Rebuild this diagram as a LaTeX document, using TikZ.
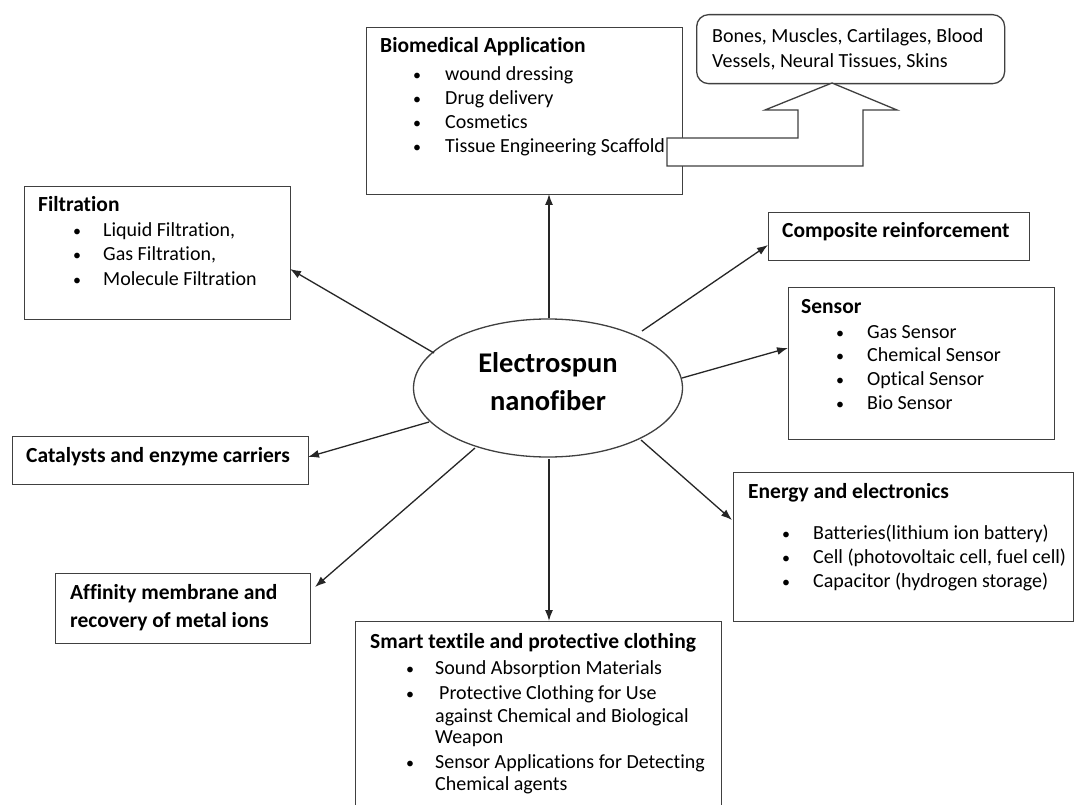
\documentclass[tikz,border=0pt]{standalone}
\usepackage{fontspec}
\setmainfont{Carlito}[Ligatures=NoCommon]
\usetikzlibrary{arrows.meta,shapes.geometric}
\tikzset{
  box/.style={draw=black!75, line width=1.3pt, fill=white},
  txt/.style={anchor=base west, inner sep=0pt, font=\fontsize{20}{24}\selectfont},
  ttl/.style={anchor=base west, inner sep=0pt, font=\fontsize{21.5}{25}\selectfont\bfseries},
  bul/.style={anchor=base west, inner sep=0pt, font=\fontsize{16}{20}\selectfont},
  conn/.style={draw=black!85, line width=1.3pt, -{Latex[length=11pt,width=8pt]}},
}
\begin{document}
\begin{tikzpicture}[x=1pt,y=-1pt]
\useasboundingbox (0,0) rectangle (1074,805);
\clip (0,0) rectangle (1074,805);
\fill[white] (0,0) rectangle (1074,805);

% ---- boxes (as nodes) ----
\node[box, anchor=north west, minimum width=316pt, minimum height=167pt, inner sep=0pt] (bio) at (366,27) {};
\node[box, anchor=north west, minimum width=308pt, minimum height=69pt, inner sep=0pt, rounded corners=12pt] (bones) at (696,14) {};
\node[box, anchor=north west, minimum width=266pt, minimum height=133pt, inner sep=0pt] (filt) at (24,186) {};
\node[box, anchor=north west, minimum width=261pt, minimum height=48pt, inner sep=0pt] (comp) at (768,212) {};
\node[box, anchor=north west, minimum width=266pt, minimum height=152pt, inner sep=0pt] (sens) at (788,287) {};
\node[box, anchor=north west, minimum width=296pt, minimum height=48pt, inner sep=0pt] (cat) at (12,436) {};
\node[box, anchor=north west, minimum width=340pt, minimum height=149pt, inner sep=0pt] (ener) at (733,472) {};
\node[box, anchor=north west, minimum width=255pt, minimum height=70pt, inner sep=0pt] (aff) at (55,573) {};
\node[box, anchor=north west, minimum width=366pt, minimum height=200pt, inner sep=0pt] (smart) at (355,621) {};

% ---- centre ellipse ----
\node[draw=black!75, line width=1.3pt, ellipse, minimum width=269pt, minimum height=138pt, inner sep=0pt] (core) at (548,388) {};
\node[anchor=base, inner sep=0pt, font=\fontsize{28.5}{32}\selectfont\bfseries] (core1) at (548,372.5) {Electrospun};
\node[anchor=base, inner sep=0pt, font=\fontsize{28.5}{32}\selectfont\bfseries] (core2) at (548,410) {nanofiber};

% ---- block arrow from Tissue Engineering Scaffold to Bones box ----
\coordinate (ba1) at (667,138);
\coordinate (ba2) at (798,138);
\coordinate (ba3) at (798,110);
\coordinate (ba4) at (765,110);
\coordinate (ba5) at (832,83);
\coordinate (ba6) at (897,110);
\coordinate (ba7) at (863,110);
\coordinate (ba8) at (863,166);
\coordinate (ba9) at (667,166);
\draw[draw=black!75, line width=1.3pt, fill=white] (ba1) -- (ba2) -- (ba3) -- (ba4) -- (ba5) -- (ba6) -- (ba7) -- (ba8) -- (ba9) -- cycle;

% ---- texts ----
% Biomedical
\node[ttl] (bioT) at (380,53) {Biomedical Application};
\node[bul] (bioB1) at (413,81) {\textbullet}; \node[txt] (bio1) at (445,81) {wound dressing};
\node[bul] (bioB2) at (413,105) {\textbullet}; \node[txt] (bio2) at (445,105) {Drug delivery};
\node[bul] (bioB3) at (413,129) {\textbullet}; \node[txt] (bio3) at (445,129) {Cosmetics};
\node[bul] (bioB4) at (413,153) {\textbullet}; \node[txt] (bio4) at (445,153) {Tissue Engineering Scaffold};
% Bones
\node[txt] (bon1) at (712,43) {Bones, Muscles, Cartilages, Blood};
\node[txt] (bon2) at (712,68) {Vessels, Neural Tissues, Skins};
% Filtration
\node[ttl] (filT) at (38,212) {Filtration};
\node[bul] (filB1) at (73,237) {\textbullet}; \node[txt] (fil1) at (103,237) {Liquid Filtration,};
\node[bul] (filB2) at (73,261) {\textbullet}; \node[txt] (fil2) at (103,261) {Gas Filtration,};
\node[bul] (filB3) at (73,285) {\textbullet}; \node[txt] (fil3) at (103,285) {Molecule Filtration};
% Composite
\node[ttl] (comT) at (782,238) {Composite reinforcement};
% Sensor
\node[ttl] (senT) at (801,313) {Sensor};
\node[bul] (senB1) at (836,338) {\textbullet}; \node[txt] (sen1) at (867,338) {Gas Sensor};
\node[bul] (senB2) at (836,361) {\textbullet}; \node[txt] (sen2) at (867,361) {Chemical Sensor};
\node[bul] (senB3) at (836,385) {\textbullet}; \node[txt] (sen3) at (867,385) {Optical Sensor};
\node[bul] (senB4) at (836,409) {\textbullet}; \node[txt] (sen4) at (867,409) {Bio Sensor};
% Catalysts
\node[ttl] (catT) at (26,462) {Catalysts and enzyme carriers};
% Energy
\node[ttl] (eneT) at (748,498) {Energy and electronics};
\node[bul] (eneB1) at (782,539) {\textbullet}; \node[txt] (ene1) at (813,539) {Batteries(lithium ion battery)};
\node[bul] (eneB2) at (782,563) {\textbullet}; \node[txt] (ene2) at (813,563) {Cell (photovoltaic cell, fuel cell)};
\node[bul] (eneB3) at (782,587) {\textbullet}; \node[txt] (ene3) at (813,587) {Capacitor (hydrogen storage)};
% Affinity
\node[ttl] (affT1) at (70,599) {Affinity membrane and};
\node[ttl] (affT2) at (70,627) {recovery of metal ions};
% Smart textile
\node[ttl] (smaT) at (370,648) {Smart textile and protective clothing};
\node[bul] (smaB1) at (406,674) {\textbullet}; \node[txt] (sma1) at (435,674) {Sound Absorption Materials};
\node[bul] (smaB2) at (406,699) {\textbullet}; \node[txt] (sma2) at (439,699) {Protective Clothing for Use};
\node[txt] (sma3) at (435,722) {against Chemical and Biological};
\node[txt] (sma4) at (435,743) {Weapon};
\node[bul] (smaB3) at (406,768) {\textbullet}; \node[txt] (sma5) at (435,768) {Sensor Applications for Detecting};
\node[txt] (sma6) at (435,790) {Chemical agents};

% ---- connectors ----
\coordinate (sUp) at (549,318);
\coordinate (sFil) at (434,353);
\coordinate (sCom) at (642,331);
\coordinate (sSen) at (682,378);
\coordinate (sCat) at (429,422);
\coordinate (sEne) at (641,440);
\coordinate (sAff) at (475,448);
\coordinate (sDn) at (549,459);
\coordinate (eUp) at (549,194);
\coordinate (eFil) at (290,269);
\coordinate (eCom) at (768,245);
\coordinate (eSen) at (788,348);
\coordinate (eCat) at (308,457);
\coordinate (eEne) at (732,520);
\coordinate (eAff) at (315,587);
\coordinate (eDn) at (549,621);
\draw[conn] (sUp) -- (eUp);
\draw[conn] (sFil) -- (eFil);
\draw[conn] (sCom) -- (eCom);
\draw[conn] (sSen) -- (eSen);
\draw[conn] (sCat) -- (eCat);
\draw[conn] (sEne) -- (eEne);
\draw[conn] (sAff) -- (eAff);
\draw[conn] (sDn) -- (eDn);
\end{tikzpicture}
\end{document}
